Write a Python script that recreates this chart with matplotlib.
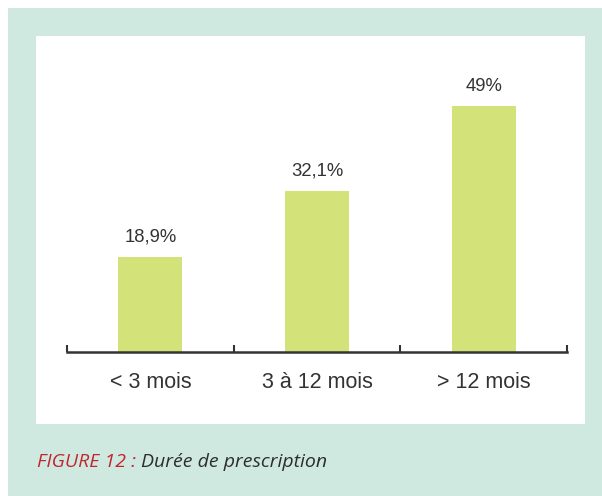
import matplotlib
matplotlib.use("Agg")
import matplotlib.pyplot as plt
from matplotlib.patches import Rectangle

categories = ["< 3 mois", "3 à 12 mois", "> 12 mois"]
values = [18.9, 32.1, 49.0]
value_labels = ["18,9%", "32,1%", "49%"]

W, H = 602, 496
fig = plt.figure(figsize=(W / 100, H / 100), dpi=100)
fig.patch.set_facecolor("white")

# mint frame and white panel (pixel coords), kept behind the axes
fig.patches.append(Rectangle((8 / W, 0), 1 - 8 / W, 1 - 8 / H, transform=fig.transFigure,
                             facecolor="#cfe9e1", edgecolor="none", zorder=-2))
fig.patches.append(Rectangle((36 / W, (H - 424) / H), (585 - 36) / W, (424 - 36) / H,
                             transform=fig.transFigure, facecolor="white", edgecolor="none", zorder=-1))

ax = fig.add_axes([67 / W, (H - 352) / H, 500 / W, 276 / H])
ax.set_facecolor("none")
x = [0.5, 1.5, 2.5]
ax.bar(x, values, width=0.385, color="#d4e27a", zorder=2)
ax.set_xlim(0, 3)
ax.set_ylim(0, 55)

for xi, v, lab in zip(x, values, value_labels):
    ax.annotate(lab, (xi, v), xytext=(0, 14.4), textcoords="offset points", ha="center",
                va="center", fontsize=13.3, color="#333333", family="Liberation Sans")

for s in ["top", "right", "left"]:
    ax.spines[s].set_visible(False)
ax.spines["bottom"].set_color("#333333")
ax.spines["bottom"].set_linewidth(1.8)
ax.set_yticks([])
ax.set_xticks([0, 1, 2, 3])
ax.set_xticklabels([])
ax.tick_params(axis="x", direction="in", length=5, width=1.5, color="#333333")
for xi, c in zip(x, categories):
    ax.text(xi, -0.11, c, transform=ax.get_xaxis_transform(), ha="center", va="center",
            fontsize=15.5, color="#333333", family="Liberation Sans")

t1 = fig.text(37 / W, (H - 462) / H, "FIGURE 12 :", color="#c0272d", fontsize=14,
              style="italic", family="Open Sans", va="center")
fig.canvas.draw()
bb = t1.get_window_extent()
fig.text((bb.x1 + 5) / W, (H - 462) / H, "Durée de prescription", color="#2d2d2d",
         fontsize=14, style="italic", family="Open Sans", va="center")

fig.savefig("out.png", dpi=100)
